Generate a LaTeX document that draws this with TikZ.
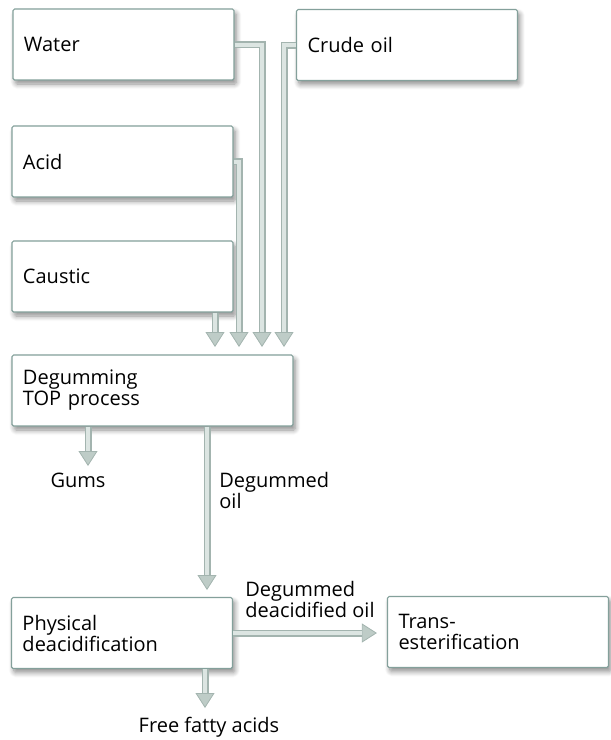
\documentclass[tikz,border=0pt]{standalone}
\usepackage{fontspec}
\setmainfont{Open Sans}
\usetikzlibrary{arrows.meta,calc,shadows.blur}
\definecolor{boxline}{HTML}{84A09B}
\definecolor{pipeline}{HTML}{A3B4AF}
\definecolor{pipefill}{HTML}{DCE5E2}
\definecolor{pipehead}{HTML}{BECCC7}

\tikzset{
  stage/.style={draw=boxline, fill=white, line width=0.6pt, rounded corners=0.8pt,
    text width=99.5pt, align=left, inner xsep=5.5pt, minimum height=35.5pt,
    blur shadow={shadow xshift=1.2pt, shadow yshift=-2pt, shadow blur radius=2.5pt,
      shadow blur steps=8, shadow opacity=45}},
  pipe/.style={draw=pipeline, line width=3.5pt, line join=miter, shorten >=#1,
    -{Triangle[width=9.5pt, length=7.5pt, line width=0.4pt, color=pipeline, fill=pipehead]},
    postaction={draw=pipefill, line width=2pt, arrows=-, shorten >=#1+7.5pt}},
  pipe/.default=0pt,
  note/.style={inner sep=0pt, align=left}
}

\begin{document}
\begin{tikzpicture}[x=0.5pt, y=-0.5pt, font=\fontsize{10}{10.5}\selectfont]
\useasboundingbox (0,0) rectangle (611,740);
\node[stage] (water) at (123.5,44.5) {Water};
\node[stage] (crude) at (407,45) {Crude oil};
\node[stage] (acid) at (122.5,161.5) {Acid};
\node[stage] (caustic) at (122.5,276.5) {Caustic};
\node[stage, text width=129.5pt] (degum) at (152.5,390.5) {Degumming\\TOP process};
\node[stage] (phys) at (122,633) {Physical\\deacidification};
\node[stage] (trans) at (498,632) {Trans-\\esterification};

% ends of the pipes
\coordinate (in1) at (215,355);
\coordinate (in2) at (239,355);
\coordinate (in3) at (262,355);
\coordinate (in4) at (284,355);
\coordinate (gums) at (88,466);
\coordinate (oil) at (207,598);
\coordinate (ffa) at (205,708);

\draw[pipe=4pt] (caustic.south -| in1) -- (in1);
\draw[pipe=4pt] (acid.east) -| (in2);
\draw[pipe=4pt] (water.east) -| (in3);
\draw[pipe=4pt] (crude.west) -| (in4);
\draw[pipe] (degum.south -| gums) -- (gums);
\draw[pipe=4pt] (degum.south -| oil) -- (oil);
\draw[pipe=5pt] (phys.east) -- (phys.east -| trans.west);
\draw[pipe] (phys.south -| ffa) -- (ffa);

\node[note, anchor=base] (gumtext) at (78,487) {Gums};
\node[note, anchor=north west] (oiltext) at (219,472) {Degummed\\oil};
\node[note, anchor=north west] (ddtext) at (245,581) {Degummed\\deacidified oil};
\node[note, anchor=base] (ffatext) at (209,732) {Free fatty acids};
\end{tikzpicture}
\end{document}
